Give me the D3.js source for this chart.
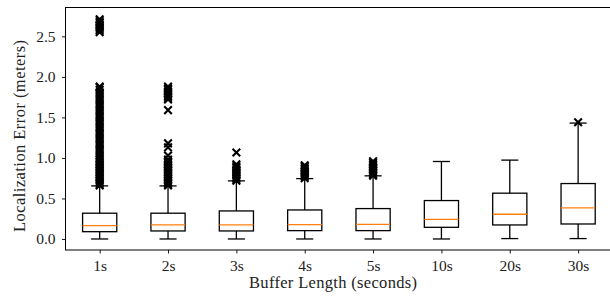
<!DOCTYPE html>
<html><head><meta charset="utf-8">
<script src="https://cdn.jsdelivr.net/npm/d3@7"></script>
<style>
html,body{margin:0;padding:0;background:#fff;}
svg{display:block;}
text{font-family:"Liberation Serif","Times New Roman",serif;fill:#222;}
</style></head>
<body><svg id="chart" width="610" height="297"></svg>
<script>
const categories = ["1s","2s","3s","4s","5s","10s","20s","30s"];
const q1 = [0.090,0.099,0.099,0.103,0.103,0.144,0.173,0.185];
const medians = [0.165,0.173,0.173,0.177,0.181,0.243,0.305,0.383];
const q3 = [0.318,0.318,0.346,0.358,0.375,0.474,0.565,0.684];
const whiskerLow = [0.0,0.0,0.0,0.0,0.0,0.0,0.005,0.005];
const whiskerHigh = [0.655,0.655,0.717,0.745,0.779,0.956,0.973,1.43];
const outliers1s = [0.66,0.68,0.70,0.72,0.74,0.76,0.78,0.80,0.82,0.84,0.86,0.88,0.90,0.92,0.94,0.96,0.98,1.00,
  1.03,1.06,1.09,1.12,1.15,1.18,1.21,1.24,1.27,1.30,1.33,1.36,1.39,1.42,1.45,1.48,1.51,1.54,1.57,1.60,1.63,1.66,1.69,1.72,1.75,1.78,1.81,1.84,1.87,1.88,
  2.55,2.57,2.59,2.61,2.63,2.65,2.67,2.69,2.71];
const outliers2s = [0.66,0.68,0.70,0.72,0.74,0.76,0.78,0.80,0.82,0.84,0.86,0.88,0.90,0.92,0.94,0.96,0.98,
  1.03,1.13,1.18,1.59,1.72,1.74,1.76,1.78,1.80,1.82,1.84,1.86,1.88];
const outliers3s = [0.72,0.74,0.76,0.78,0.80,0.82,0.84,0.86,0.88,0.90,0.92,1.067];
const outliers4s = [0.75,0.77,0.79,0.81,0.83,0.85,0.87,0.89,0.91];
const outliers5s = [0.78,0.80,0.82,0.84,0.86,0.88,0.90,0.92,0.94,0.96];
const outliers10s = [];
const outliers20s = [];
const outliers30s = [1.44];
const allOutliers = [outliers1s,outliers2s,outliers3s,outliers4s,outliers5s,outliers10s,outliers20s,outliers30s];
const yTicks = [0,0.5,1.0,1.5,2.0,2.5];

const svg = d3.select("#chart");
const mLeft = 65.5, mRight = 612.3, mTop = 7.5, mBottom = 250;
const x = d3.scaleLinear().domain([0.5,8.5]).range([mLeft,mRight]);
const y = d3.scaleLinear().domain([-0.136,2.856]).range([mBottom,mTop]);
const boxHalf = (x(1.25)-x(1));
const capHalf = boxHalf/2;
const lw = 1.3;

const data = categories.map((c,i)=>({c,pos:i+1,q1:q1[i],med:medians[i],q3:q3[i],lo:whiskerLow[i],hi:whiskerHigh[i],out:allOutliers[i]}));

const g = svg.append("g");
const groups = g.selectAll("g.box").data(data).enter().append("g");
groups.append("line").attr("x1",d=>x(d.pos)).attr("x2",d=>x(d.pos)).attr("y1",d=>y(d.q3)).attr("y2",d=>y(d.hi)).attr("stroke","#000").attr("stroke-width",lw);
groups.append("line").attr("x1",d=>x(d.pos)).attr("x2",d=>x(d.pos)).attr("y1",d=>y(d.q1)).attr("y2",d=>y(d.lo)).attr("stroke","#000").attr("stroke-width",lw);
groups.append("line").attr("x1",d=>x(d.pos)-capHalf).attr("x2",d=>x(d.pos)+capHalf).attr("y1",d=>y(d.hi)).attr("y2",d=>y(d.hi)).attr("stroke","#000").attr("stroke-width",lw);
groups.append("line").attr("x1",d=>x(d.pos)-capHalf).attr("x2",d=>x(d.pos)+capHalf).attr("y1",d=>y(d.lo)).attr("y2",d=>y(d.lo)).attr("stroke","#000").attr("stroke-width",lw);
groups.append("rect").attr("x",d=>x(d.pos)-boxHalf).attr("width",2*boxHalf).attr("y",d=>y(d.q3)).attr("height",d=>y(d.q1)-y(d.q3)).attr("fill","none").attr("stroke","#000").attr("stroke-width",lw);
groups.append("line").attr("x1",d=>x(d.pos)-boxHalf).attr("x2",d=>x(d.pos)+boxHalf).attr("y1",d=>y(d.med)).attr("y2",d=>y(d.med)).attr("stroke","#ff7f0e").attr("stroke-width",lw);
groups.each(function(d){
  d3.select(this).selectAll("path.out").data(d.out).enter().append("path")
    .attr("d","M-3.8,-3.8L3.8,3.8M-3.8,3.8L3.8,-3.8")
    .attr("transform",v=>`translate(${x(d.pos)},${y(v)})`)
    .attr("stroke","#000").attr("stroke-width",2.1).attr("fill","none");
});

const xAxis = d3.axisBottom(x).tickValues(d3.range(1,9)).tickFormat((d)=>categories[d-1]).tickSize(3.5).tickPadding(6.5);
const yAxis = d3.axisLeft(y).tickValues(yTicks).tickFormat(d3.format(".1f")).tickSize(3.5).tickPadding(6.5);
const gx = svg.append("g").attr("transform",`translate(0,${mBottom})`).call(xAxis);
const gy = svg.append("g").attr("transform",`translate(${mLeft},0)`).call(yAxis);
[gx,gy].forEach(a=>{
  a.select(".domain").remove();
  a.selectAll(".tick line").attr("stroke","#000").attr("stroke-width",0.9);
  a.selectAll(".tick text").attr("font-size",15.5).attr("fill","#222").style("font-family","'Liberation Serif',serif");
});
svg.append("rect").attr("x",mLeft).attr("y",mTop).attr("width",mRight-mLeft).attr("height",mBottom-mTop).attr("fill","none").attr("stroke","#000").attr("stroke-width",1);

svg.append("text").attr("x",333).attr("y",287.5).attr("text-anchor","middle").attr("font-size",16.5)
  .attr("textLength",168).attr("lengthAdjust","spacing").text("Buffer Length (seconds)");
svg.append("text").attr("transform",`translate(24.5,136) rotate(-90)`).attr("text-anchor","middle").attr("font-size",16.5)
  .attr("textLength",192).attr("lengthAdjust","spacing").text("Localization Error (meters)");
</script></body></html>
